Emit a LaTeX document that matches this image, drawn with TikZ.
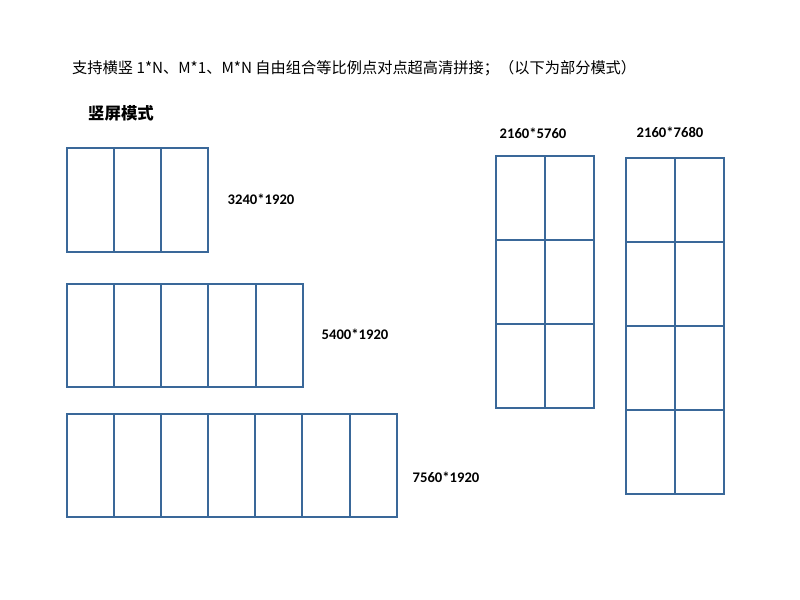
\documentclass[tikz,border=0pt]{standalone}
\usepackage{fontspec}
\usepackage{xcolor}
\usepackage{tikz}
\setmainfont{Carlito}
\newfontfamily\cjk{Noto Sans CJK SC}
\definecolor{panelblue}{HTML}{3A6899}

\begin{document}
\begin{tikzpicture}[
  x=0.03cm, y=-0.03cm,
  panel/.style={draw=panelblue, line width=2.4pt},
  reslabel/.style={font=\bfseries\fontsize{12.5}{14}\selectfont, inner sep=0pt}
]
\useasboundingbox (0,0) rectangle (800,600);
\node[anchor=west, inner sep=0pt, font=\cjk\fontsize{13}{15}\selectfont] (title) at (72,68)
  {支持横竖 1*N、M*1、M*N 自由组合等比例点对点超高清拼接；（以下为部分模式）};
\node[anchor=west, inner sep=0pt, font=\cjk\bfseries\fontsize{14}{16}\selectfont] (mode) at (88,113) {竖屏模式};

% 3 x 1
\draw[panel] (67,148) rectangle (208,252);
\foreach \x in {114,161} \draw[panel] (\x,148) -- (\x,252);
\node[reslabel] (resA) at (261,199) {3240*1920};

% 5 x 1
\draw[panel] (67,284) rectangle (303,387);
\foreach \x in {114,161,208,256} \draw[panel] (\x,284) -- (\x,387);
\node[reslabel] (resB) at (355,334) {5400*1920};

% 7 x 1
\draw[panel] (67,414) rectangle (397,517);
\foreach \x in {114,161,208,255,302,350} \draw[panel] (\x,414) -- (\x,517);
\node[reslabel] (resC) at (446,477) {7560*1920};

% 2 x 3
\draw[panel] (496,156) rectangle (594,408);
\draw[panel] (545,156) -- (545,408);
\foreach \y in {240,324} \draw[panel] (496,\y) -- (594,\y);
\node[reslabel] (resD) at (533,133) {2160*5760};

% 2 x 4
\draw[panel] (626,158) rectangle (724,494);
\draw[panel] (675,158) -- (675,494);
\foreach \y in {242,326,410} \draw[panel] (626,\y) -- (724,\y);
\node[reslabel] (resE) at (670,132) {2160*7680};
\end{tikzpicture}
\end{document}
